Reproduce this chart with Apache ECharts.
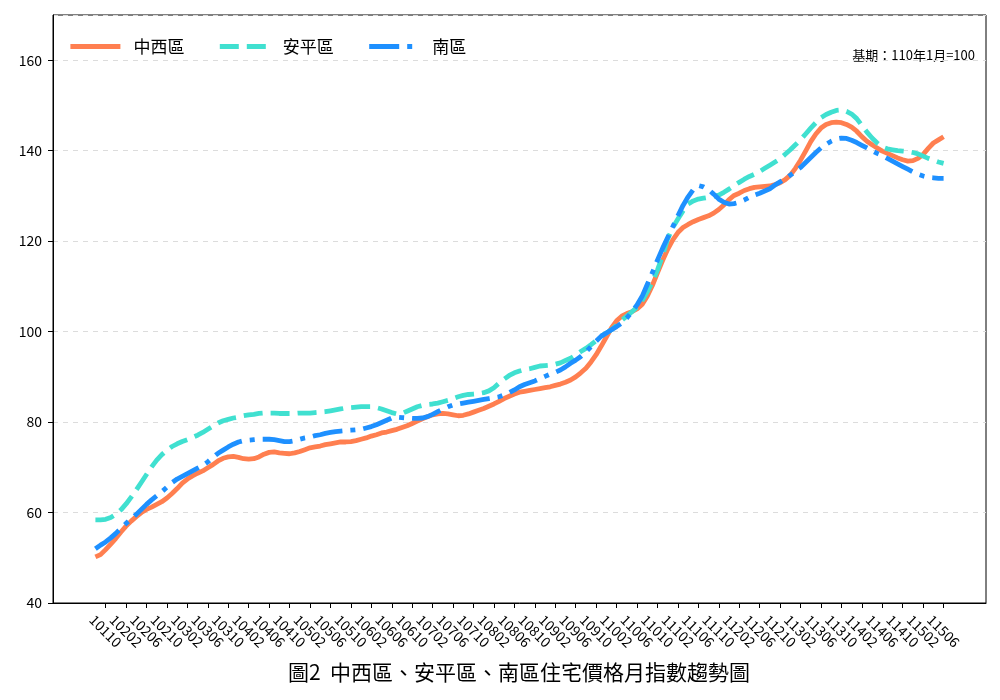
<!DOCTYPE html>
<html style="height: 100%">
<head>
<meta charset="utf-8">
<script src="https://cdn.jsdelivr.net/npm/echarts@6/dist/echarts.min.js"></script>
</head>
<body style="height: 100%; margin: 0; background: #fff">
<div id="container" style="width: 1000px; height: 700px"></div>
<script type="text/javascript">
// 月份: 10108 .. 11506 (每月一筆)
var months = [];
for (var i = 0; i < 167; i++) {
    var y = 101 + Math.floor((7 + i) / 12);
    var mo = (7 + i) % 12 + 1;
    months.push('' + y + (mo < 10 ? '0' + mo : mo));
}
// 刻度: 每4個月一個, 從10110開始
var tickIdx = [];
for (var t = 2; t < months.length; t += 4) tickIdx.push(t);

var names = ['中西區', '安平區', '南區'];

var zhongxi = [
    50.2, 50.7, 51.8, 53.0, 54.3, 55.7, 57.0, 58.1, 59.1, 60.0,
    60.7, 61.2, 61.8, 62.4, 63.2, 64.2, 65.3, 66.5, 67.4, 68.1,
    68.7, 69.2, 69.9, 70.6, 71.4, 72.0, 72.3, 72.4, 72.2, 71.9,
    71.8, 71.9, 72.3, 72.9, 73.3, 73.4, 73.2, 73.1, 73.0, 73.2,
    73.5, 73.9, 74.3, 74.5, 74.7, 75.0, 75.2, 75.4, 75.6, 75.6,
    75.7, 75.9, 76.2, 76.5, 76.9, 77.2, 77.6, 77.8, 78.1, 78.4,
    78.8, 79.2, 79.7, 80.2, 80.7, 81.2, 81.6, 81.8, 81.9, 81.8,
    81.6, 81.4, 81.5, 81.8, 82.2, 82.6, 83.0, 83.5, 84.0, 84.6,
    85.2, 85.7, 86.2, 86.6, 86.8, 87.0, 87.2, 87.4, 87.6, 87.8,
    88.1, 88.4, 88.8, 89.3, 90.0, 90.9, 91.9, 93.3, 94.9, 96.8,
    98.8, 100.8, 102.4, 103.4, 104.0, 104.4, 105.0, 106.0, 107.8, 110.2,
    113.0, 115.7, 118.2, 120.3, 121.9, 123.0, 123.7, 124.3, 124.8, 125.2,
    125.6, 126.2, 127.0, 128.0, 129.2, 130.1, 130.6, 131.2, 131.6, 131.9,
    132.0, 132.1, 132.2, 132.5, 132.9, 133.6, 134.6, 136.1, 137.9, 139.9,
    142.0, 143.7, 145.0, 145.8, 146.2, 146.3, 146.2, 145.8, 145.2, 144.3,
    143.1, 142.1, 141.3, 140.6, 139.9, 139.4, 138.9, 138.4, 138.0, 137.7,
    137.8, 138.3, 139.2, 140.5, 141.7, 142.4, 143.1
];
var anping = [
    58.4, 58.4, 58.5, 58.9, 59.6, 60.6, 61.9, 63.4, 65.0, 66.7,
    68.4, 70.1, 71.6, 72.8, 73.8, 74.6, 75.2, 75.7, 76.1, 76.6,
    77.1, 77.7, 78.4, 79.1, 79.8, 80.3, 80.6, 80.9, 81.1, 81.4,
    81.6, 81.7, 81.9, 82.0, 82.0, 82.0, 81.9, 81.9, 81.9, 81.9,
    82.0, 82.0, 82.0, 82.1, 82.2, 82.3, 82.5, 82.7, 82.9, 83.1,
    83.2, 83.3, 83.4, 83.4, 83.4, 83.2, 82.9, 82.5, 82.1, 81.8,
    81.9, 82.4, 82.9, 83.4, 83.7, 83.9, 84.0, 84.2, 84.5, 84.8,
    85.2, 85.6, 85.9, 86.1, 86.2, 86.3, 86.5, 86.9, 87.6, 88.6,
    89.5, 90.3, 90.9, 91.3, 91.6, 91.8, 92.1, 92.4, 92.5, 92.6,
    92.8, 93.1, 93.6, 94.1, 94.8, 95.6, 96.3, 97.1, 98.0, 99.0,
    99.7, 100.4, 101.4, 102.5, 103.4, 104.4, 105.4, 106.9, 108.8, 111.0,
    113.6, 116.8, 120.5, 123.0, 124.9, 126.7, 128.2, 128.9, 129.3, 129.5,
    129.7, 129.9, 130.2, 130.8, 131.5, 132.3, 133.0, 133.7, 134.3, 134.8,
    135.4, 136.1, 136.8, 137.5, 138.2, 139.2, 140.2, 141.3, 142.4, 143.7,
    145.0, 146.2, 147.3, 148.0, 148.5, 148.9, 149.0, 148.7, 148.1, 147.1,
    145.6, 144.1, 142.8, 141.7, 140.8, 140.4, 140.2, 140.0, 139.9, 139.8,
    139.6, 139.3, 138.8, 138.3, 137.9, 137.5, 137.2
];
var nanqu = [
    52.0, 52.8, 53.5, 54.4, 55.4, 56.5, 57.6, 58.6, 59.6, 60.7,
    61.8, 62.8, 63.7, 64.6, 65.6, 66.6, 67.4, 68.0, 68.6, 69.2,
    69.8, 70.4, 71.2, 72.2, 73.1, 73.8, 74.5, 75.1, 75.6, 75.9,
    76.0, 76.1, 76.2, 76.2, 76.2, 76.1, 75.9, 75.7, 75.7, 75.9,
    76.2, 76.5, 76.7, 77.0, 77.2, 77.5, 77.7, 77.9, 78.0, 78.1,
    78.2, 78.3, 78.4, 78.7, 79.0, 79.4, 79.9, 80.4, 80.9, 81.1,
    81.0, 80.9, 80.8, 80.8, 80.9, 81.2, 81.7, 82.3, 82.9, 83.4,
    83.8, 84.0, 84.2, 84.4, 84.6, 84.8, 85.0, 85.2, 85.4, 85.6,
    86.0, 86.5, 87.1, 87.8, 88.3, 88.7, 89.1, 89.6, 90.1, 90.6,
    91.0, 91.5, 92.2, 93.0, 93.7, 94.5, 95.5, 96.7, 97.9, 99.0,
    99.7, 100.4, 101.1, 101.9, 103.0, 104.4, 105.9, 107.8, 110.4, 113.0,
    115.8, 118.4, 120.8, 123.2, 125.6, 127.9, 129.8, 131.4, 132.3, 132.0,
    131.4, 130.4, 129.3, 128.6, 128.2, 128.3, 128.6, 129.1, 129.7, 130.2,
    130.6, 131.1, 131.6, 132.4, 133.1, 133.8, 134.6, 135.4, 136.3, 137.4,
    138.5, 139.6, 140.6, 141.4, 142.1, 142.6, 142.8, 142.7, 142.3, 141.8,
    141.2, 140.6, 140.0, 139.4, 138.9, 138.3, 137.7, 137.1, 136.5, 135.9,
    135.3, 134.8, 134.4, 134.1, 134.0, 133.9, 133.9
];

var colors = ['#FF7F50', '#40E0D0', '#1E90FF'];
var dashes = ['solid', [19, 8], [30, 8, 5, 8]];
var FONT = 'Noto Sans CJK TC';
var LW = 4.8;

function pairs(arr) {
    var out = [];
    for (var i = 0; i < arr.length; i++) out.push([i, arr[i]]);
    return out;
}

var dom = document.getElementById('container');
var myChart = echarts.init(dom);
var values = [zhongxi, anping, nanqu];
var series = [];
for (var s = 0; s < 3; s++) {
    series.push({
        name: names[s],
        type: 'line',
        data: pairs(values[s]),
        symbol: 'none',
        showSymbol: false,
        smooth: false,
        animation: false,
        lineStyle: { color: colors[s], width: LW, type: dashes[s], cap: 'butt' },
        itemStyle: { color: colors[s] }
    });
}

var option = {
    backgroundColor: '#fff',
    animation: false,
    textStyle: { fontFamily: FONT },
    grid: {
        left: 53, right: 14, top: 15, bottom: 97,
        show: true, borderColor: '#000', borderWidth: 1
    },
    legend: {
        data: names,
        left: 63, top: 33,
        itemWidth: 50, itemHeight: 14, itemGap: 33,
        itemStyle: { opacity: 0 },
        lineStyle: { width: LW, cap: 'butt' },
        textStyle: { fontSize: 17, color: '#000', fontFamily: FONT, padding: [0, 0, 0, 8] }
    },
    xAxis: {
        type: 'value',
        min: -8.3,
        max: 174.3,
        splitLine: { show: false },
        axisLine: { onZero: false, lineStyle: { color: '#000', width: 1 } },
        axisTick: { customValues: tickIdx, length: 5, lineStyle: { color: '#000' } },
        axisLabel: {
            customValues: tickIdx,
            formatter: function (v) { return months[Math.round(v)]; },
            rotate: -45,
            align: 'center',
            verticalAlign: 'middle',
            margin: 28,
            fontSize: 14,
            color: '#000',
            fontFamily: FONT
        }
    },
    yAxis: {
        type: 'value',
        min: 40,
        max: 170,
        interval: 20,
        axisLine: { show: true, onZero: false, lineStyle: { color: '#000', width: 1 } },
        axisTick: { show: true, length: 5, lineStyle: { color: '#000' } },
        axisLabel: { showMaxLabel: false, fontSize: 14, color: '#000', margin: 11, fontFamily: FONT },
        splitLine: { show: true, lineStyle: { type: [5, 5], color: '#dcdcdc', width: 1 } }
    },
    graphic: [
        {
            type: 'text', x: 975, y: 55,
            style: { text: '基期：110年1月=100', font: '13px "' + FONT + '"', fill: '#000', align: 'right', verticalAlign: 'middle' }
        },
        {
            type: 'text', x: 519, y: 672,
            style: { text: '圖2  中西區、安平區、南區住宅價格月指數趨勢圖', font: '21px "' + FONT + '"', fill: '#000', align: 'center', verticalAlign: 'middle' }
        }
    ],
    series: series
};
myChart.setOption(option);
</script>
</body>
</html>
